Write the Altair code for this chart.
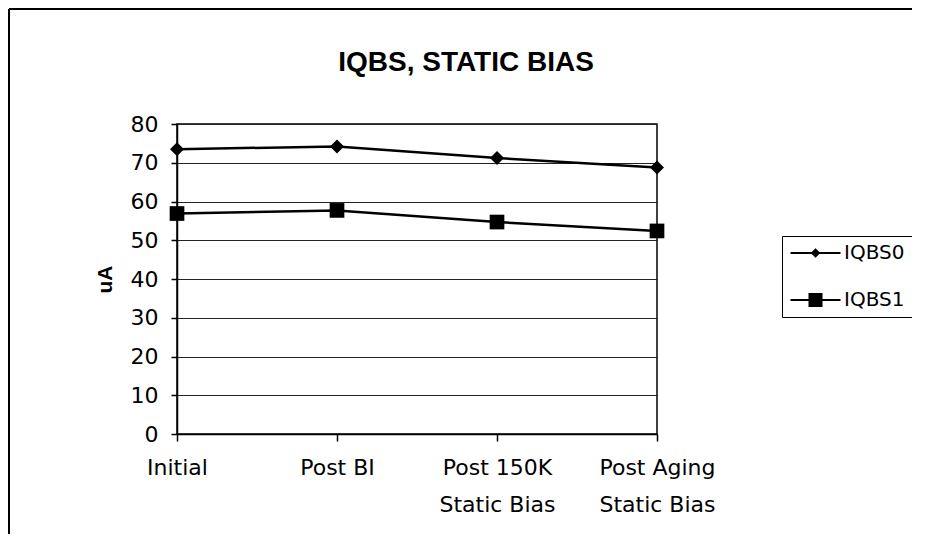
import altair as alt
import pandas as pd

categories = ["Initial", "Post BI", "Post 150K\nStatic Bias", "Post Aging\nStatic Bias"]
series_names = ["IQBS0", "IQBS1"]
iqbs0 = [73.5, 74.2, 71.2, 68.8]
iqbs1 = [56.9, 57.7, 54.7, 52.4]
y_ticks = [0, 10, 20, 30, 40, 50, 60, 70, 80]

rows = []
for name, vals in zip(series_names, [iqbs0, iqbs1]):
    for c, v in zip(categories, vals):
        rows.append({"stage": c, "series": name, "value": v})
df = pd.DataFrame(rows)

FONT = "DejaVu Sans"
TFONT = "Liberation Sans"

x_enc = alt.X(
    "stage:N", sort=categories,
    scale=alt.Scale(type="point", padding=0),
    axis=alt.Axis(
        title=None, labelAngle=0, labelExpr="split(datum.label, '\\n')",
        labelFontSize=22, labelFont=FONT, labelColor="black",
        labelPadding=16, labelLineHeight=37, labelBaseline="top",
        tickSize=7, tickColor="black", tickWidth=1.5,
        domainColor="black", domainWidth=1.5, grid=False,
    ),
)
y_enc = alt.Y(
    "value:Q",
    scale=alt.Scale(domain=[0, 80], nice=False),
    axis=alt.Axis(
        values=y_ticks, title="uA", titleFont=TFONT, titleFontSize=21,
        titleFontWeight="bold", titleColor="black",
        titleX=-72, titleY=155, titleAlign="center", titleBaseline="middle",
        labelFontSize=22, labelFont=FONT, labelColor="black", labelPadding=13,
        tickSize=6, tickColor="black", tickWidth=1.5,
        domainColor="black", domainWidth=1.5,
        grid=True, gridColor="#222222", gridWidth=1,
    ),
)

lines = alt.Chart(df).mark_line(color="black", strokeWidth=2.5).encode(
    x=x_enc, y=y_enc, detail="series:N"
)

marker_paths = ["M0,-0.95L0.95,0L0,0.95L-0.95,0Z", "M-1,-1H1V1H-1Z"]
points = alt.Chart(df).mark_point(filled=True, color="black", opacity=1, size=216).encode(
    x=x_enc, y=y_enc,
    shape=alt.Shape("series:N", scale=alt.Scale(domain=series_names, range=marker_paths), legend=None),
)

legend_paths = [
    "M-0.85,-0.1H4.15V0.1H-0.85ZM1.65,-0.48L2.13,0L1.65,0.48L1.17,0Z",
    "M-0.85,-0.1H4.15V0.1H-0.85ZM0.95,-0.7H2.35V0.7H0.95Z",
]
legend_layer = alt.Chart(df).mark_point(filled=True, color="black", opacity=0).encode(
    x=x_enc, y=y_enc,
    shape=alt.Shape(
        "series:N",
        scale=alt.Scale(domain=series_names, range=legend_paths),
        legend=alt.Legend(
            title=None, orient="none", legendX=605, legendY=112,
            labelFont=FONT, labelFontSize=20, labelColor="black",
            symbolSize=400, symbolOpacity=1, symbolFillColor="black",
            symbolStrokeColor="black", symbolStrokeWidth=0,
            strokeColor="black", fillColor="white", padding=7,
            rowPadding=27, labelOffset=35, cornerRadius=0,
        ),
    ),
)

frame_df = pd.DataFrame({"k": [0]})
frame_left = alt.Chart(frame_df).mark_rule(color="black", strokeWidth=2).encode(
    x=alt.value(-168), y=alt.value(-115), y2=alt.value(414)
)
frame_top = alt.Chart(frame_df).mark_rule(color="black", strokeWidth=2).encode(
    x=alt.value(-168), x2=alt.value(745), y=alt.value(-115)
)

chart = alt.layer(frame_left, frame_top, lines, points, legend_layer).resolve_scale(
    shape="independent"
).properties(
    width=480, height=310,
    title=alt.TitleParams(
        "IQBS, STATIC BIAS", font=TFONT, fontSize=28, fontWeight="bold",
        color="black", anchor="middle", dx=49, offset=-69,
    ),
    autosize=alt.AutoSizeParams(type="none"),
    padding={"left": 169, "top": 116, "right": 255, "bottom": 100},
    background="white",
).configure_view(stroke="black", strokeWidth=1.5)

chart.save("out.html", embed_options={"renderer": "svg", "actions": False})
